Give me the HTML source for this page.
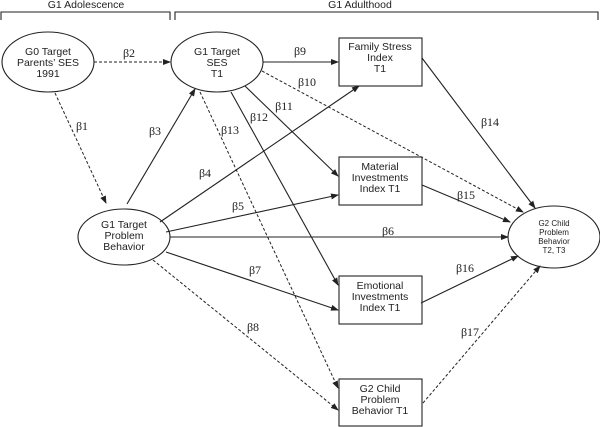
<!DOCTYPE html>
<html><head><meta charset="utf-8"><style>
html,body{margin:0;padding:0;background:#fff;}
svg{display:block;}
.t{font-family:"Liberation Sans",sans-serif;font-size:10.5px;fill:#222;text-anchor:middle;}
.s{font-family:"Liberation Sans",sans-serif;font-size:8px;fill:#222;text-anchor:middle;}
.b{font-family:"Liberation Serif",serif;font-size:12px;fill:#222;text-anchor:middle;}
.l{stroke:#222;stroke-width:1.1;fill:none;}
.d{stroke:#222;stroke-width:1;fill:none;stroke-dasharray:3,2;}
</style></head><body>
<svg width="600" height="427" viewBox="0 0 600 427" xmlns="http://www.w3.org/2000/svg">
<defs><marker id="a" markerWidth="8" markerHeight="6" refX="7" refY="3" orient="auto" markerUnits="userSpaceOnUse"><path d="M0,0 L8,3 L0,6 z" fill="#222"/></marker></defs>
<text class="t" x="86" y="8">G1 Adolescence</text>
<text class="t" x="360" y="8">G1 Adulthood</text>
<path class="l" d="M1,20 V12 H170 V20"/>
<path class="l" d="M175,20 V12 H598 V20"/>
<ellipse class="l" cx="48" cy="62" rx="46" ry="30"/>
<text class="t" x="48" y="55">G0 Target</text><text class="t" x="48" y="66">Parents’ SES</text><text class="t" x="48" y="77">1991</text>
<ellipse class="l" cx="217" cy="62" rx="46" ry="30"/>
<text class="t" x="217" y="55">G1 Target</text><text class="t" x="217" y="66">SES</text><text class="t" x="217" y="77">T1</text>
<ellipse class="l" cx="124" cy="237" rx="46" ry="28"/>
<text class="t" x="124" y="228">G1 Target</text><text class="t" x="124" y="239">Problem</text><text class="t" x="124" y="250">Behavior</text>
<ellipse class="l" cx="554" cy="237" rx="46" ry="31"/>
<text class="s" x="554" y="226">G2 Child</text><text class="s" x="554" y="235">Problem</text><text class="s" x="554" y="244">Behavior</text><text class="s" x="554" y="253">T2, T3</text>
<rect class="l" x="339" y="38" width="83" height="48"/>
<text class="t" x="380" y="50">Family Stress</text><text class="t" x="380" y="61">Index</text><text class="t" x="380" y="72">T1</text>
<rect class="l" x="339" y="157" width="83" height="48"/>
<text class="t" x="380" y="170">Material</text><text class="t" x="380" y="181">Investments</text><text class="t" x="380" y="192">Index T1</text>
<rect class="l" x="339" y="276" width="83" height="48"/>
<text class="t" x="380" y="289">Emotional</text><text class="t" x="380" y="300">Investments</text><text class="t" x="380" y="311">Index T1</text>
<rect class="l" x="339" y="379" width="83" height="47"/>
<text class="t" x="380" y="392">G2 Child</text><text class="t" x="380" y="403">Problem</text><text class="t" x="380" y="414">Behavior T1</text>
<line class="d" x1="94" y1="62" x2="170" y2="62" marker-end="url(#a)"/>
<line class="d" x1="55" y1="93" x2="106" y2="203" marker-end="url(#a)"/>
<line class="l" x1="127" y1="204" x2="195" y2="89" marker-end="url(#a)"/>
<line class="l" x1="160" y1="222" x2="359" y2="86" marker-end="url(#a)"/>
<line class="l" x1="166" y1="232" x2="338" y2="195" marker-end="url(#a)"/>
<line class="l" x1="170" y1="237" x2="508" y2="237" marker-end="url(#a)"/>
<line class="l" x1="166" y1="252" x2="338" y2="310" marker-end="url(#a)"/>
<line class="d" x1="153" y1="260" x2="338" y2="410" marker-end="url(#a)"/>
<line class="l" x1="263" y1="62" x2="338" y2="62" marker-end="url(#a)"/>
<line class="d" x1="262" y1="71" x2="523" y2="212" marker-end="url(#a)"/>
<line class="l" x1="245" y1="86" x2="338" y2="176" marker-end="url(#a)"/>
<line class="l" x1="231" y1="92" x2="338" y2="285" marker-end="url(#a)"/>
<line class="d" x1="200" y1="92" x2="338" y2="388" marker-end="url(#a)"/>
<line class="l" x1="422" y1="58" x2="535" y2="208" marker-end="url(#a)"/>
<line class="l" x1="422" y1="185" x2="510" y2="222" marker-end="url(#a)"/>
<line class="l" x1="421" y1="303" x2="518" y2="256" marker-end="url(#a)"/>
<line class="d" x1="423" y1="403" x2="540" y2="266" marker-end="url(#a)"/>
<text class="b" x="129" y="57">β2</text>
<text class="b" x="82" y="130">β1</text>
<text class="b" x="155" y="135">β3</text>
<text class="b" x="205" y="177">β4</text>
<text class="b" x="238" y="210">β5</text>
<text class="b" x="388" y="235">β6</text>
<text class="b" x="255" y="274">β7</text>
<text class="b" x="253" y="331">β8</text>
<text class="b" x="300" y="55">β9</text>
<text class="b" x="307" y="86">β10</text>
<text class="b" x="284" y="110">β11</text>
<text class="b" x="259" y="121">β12</text>
<text class="b" x="230" y="134">β13</text>
<text class="b" x="490" y="126">β14</text>
<text class="b" x="466" y="199">β15</text>
<text class="b" x="465" y="272">β16</text>
<text class="b" x="470" y="336">β17</text>
</svg>
</body></html>
